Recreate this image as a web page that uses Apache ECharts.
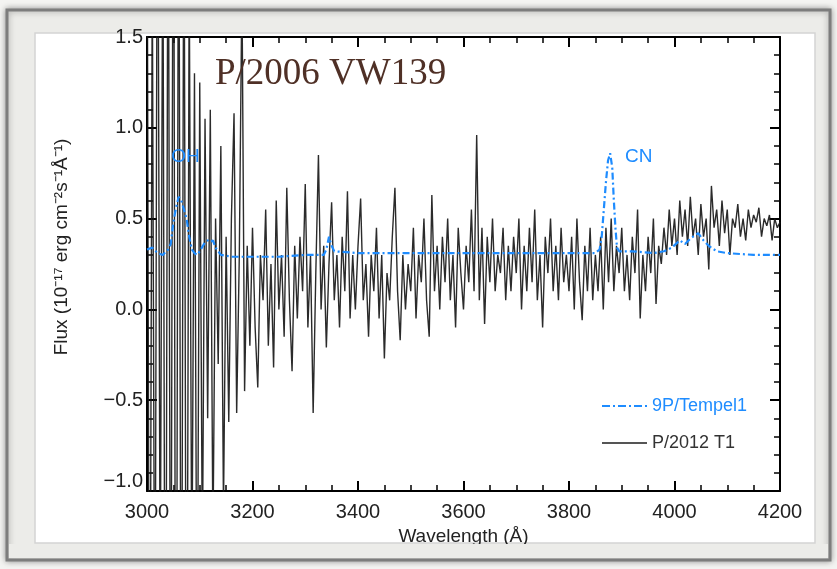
<!DOCTYPE html>
<html>
<head>
<meta charset="utf-8">
<script src="https://cdn.jsdelivr.net/npm/echarts@6/dist/echarts.min.js"></script>
<style>html,body{margin:0;padding:0;background:#f4f4f2;}#c{width:837px;height:569px;}</style>
</head>
<body>
<div id="c"></div>
<script>
// ---- data ----
const titleText = 'P/2006 VW139';
const xTicks = [3000, 3200, 3400, 3600, 3800, 4000, 4200];
const yTicks = [-1.0, -0.5, 0.0, 0.5, 1.0, 1.5];
const seriesNames = ['9P/Tempel1', 'P/2012 T1'];

// P/2012 T1 spectrum, sampled every 5 Å from 3000 Å
const blackStart = 3000, blackStep = 5;
const fluxBlack = [
  2.6, -3.0, 1.9, -2.4, 3.1, -1.7, 2.3, -3.2, 2.9, -2.7, 3.3, -3.5, 3.0, -2.9, 2.7, -3.1, 1.9, -1.6, 1.3, -2.2,
  1.25, -1.4, 1.05, -0.6, 1.1, -1.3, 0.5, -0.3, 0.9, -1.1, 0.4, -0.62, 0.5, 1.08, -0.57, 0.3, 1.8, -0.45, 0.35, -0.2,
  0.45, -0.1, -0.43, 0.3, 0.05, 0.55, -0.2, 0.25, -0.32, 0.6, 0.0, 0.3, -0.15, 0.67, 0.05, -0.34, 0.35, -0.05, 0.4, 0.1,
  0.69, -0.1, 0.3, -0.57, 0.2, 0.85, 0.0, 0.35, -0.21, 0.25, 0.59, 0.05, 0.3, -0.1, 0.4, 0.1, 0.65, -0.05, 0.3, 0.0,
  0.35, 0.61, 0.05, 0.25, -0.15, 0.3, 0.1, 0.45, -0.05, 0.3, -0.27, 0.2, 0.05, 0.4, 0.67, 0.1, -0.17, 0.3, 0.0, 0.25,
  0.1, 0.45, -0.05, 0.3, 0.15, 0.5, 0.05, -0.15, 0.63, 0.1, 0.35, 0.0, 0.4, 0.15, 0.5, 0.05, 0.3, -0.1, 0.45, 0.2,
  0.0, 0.35, 0.15, 0.55, 0.1, 0.96, 0.05, 0.45, -0.08, 0.4, 0.15, 0.5, 0.1, 0.3, 0.2, 0.45, 0.05, 0.35, 0.1, 0.4,
  0.2, 0.5, 0.0, 0.35, 0.1, 0.45, 0.15, 0.55, 0.05, 0.3, -0.1, 0.4, 0.2, 0.5, 0.1, 0.35, 0.05, 0.45, 0.15, 0.3,
  0.1, 0.4, 0.0, 0.5, 0.15, -0.06, 0.35, 0.1, 0.45, 0.05, 0.3, 0.1, 0.4, 0.0, 0.45, 0.15, 0.5, 0.1, 0.35, 0.2,
  0.45, 0.1, 0.3, 0.05, 0.4, 0.2, 0.55, -0.05, 0.3, 0.1, 0.4, 0.2, 0.5, 0.03, 0.35, 0.25, 0.45, 0.3, 0.55, 0.35,
  0.5, 0.3, 0.6, 0.4, 0.55, 0.35, 0.62, 0.4, 0.5, 0.3, 0.58, 0.4, 0.5, 0.22, 0.68, 0.45, 0.55, 0.35, 0.6, 0.42,
  0.55, 0.3, 0.5, 0.45, 0.58, 0.4, 0.5, 0.38, 0.55, 0.45, 0.52, 0.48, 0.56, 0.4, 0.5, 0.46, 0.52, 0.38, 0.5, 0.45,
  0.48
];

// 9P/Tempel1 comparison spectrum
const wavelengthBlue = [3000, 3010, 3020, 3030, 3040, 3045, 3050, 3055, 3060, 3065, 3070, 3075, 3080, 3085, 3090, 3095,
  3100, 3110, 3115, 3120, 3125, 3130, 3140, 3160, 3200, 3250, 3300, 3335, 3340, 3345, 3350, 3355, 3400, 3500, 3600,
  3700, 3800, 3850, 3858, 3862, 3866, 3870, 3874, 3878, 3882, 3885, 3888, 3891, 3895, 3920, 3960, 3980, 3995, 4010,
  4020, 4030, 4045, 4055, 4065, 4080, 4100, 4150, 4200];
const fluxBlue = [0.33, 0.34, 0.31, 0.30, 0.33, 0.36, 0.48, 0.56, 0.62, 0.60, 0.55, 0.50, 0.40, 0.33, 0.31, 0.30,
  0.32, 0.37, 0.38, 0.37, 0.38, 0.34, 0.30, 0.29, 0.29, 0.29, 0.30, 0.30, 0.33, 0.40, 0.35, 0.32, 0.31, 0.31, 0.31,
  0.31, 0.31, 0.31, 0.33, 0.40, 0.55, 0.70, 0.82, 0.86, 0.78, 0.60, 0.45, 0.34, 0.32, 0.32, 0.31, 0.32, 0.34, 0.38,
  0.36, 0.39, 0.42, 0.38, 0.35, 0.32, 0.31, 0.30, 0.30];

const annotations = [
  {text: 'OH', x: 3073, y: 0.84},
  {text: 'CN', x: 3932, y: 0.84}
];

// ---- build ----
const blackData = fluxBlack.map((v, i) => [blackStart + blackStep * i, v]);
const blueData = wavelengthBlue.map((w, i) => [w, fluxBlue[i]]);

const chart = echarts.init(document.getElementById('c'));
const FONT = '"Liberation Sans", Arial, sans-serif';
const BLUE = '#1e8cff';

const axisLineStyle = {show: true, onZero: false, lineStyle: {color: '#000', width: 2}};
const tickStyle = {show: true, inside: true, length: 10, lineStyle: {color: '#000', width: 2}};
const xMinor = {show: true, splitNumber: 4, length: 6, lineStyle: {color: '#000', width: 1.5}};
const yMinor = {show: true, splitNumber: 5, length: 6, lineStyle: {color: '#000', width: 1.5}};

chart.setOption({
  animation: false,
  backgroundColor: '#f4f4f2',
  grid: {left: 147, right: 57, top: 37, bottom: 78, containLabel: false},
  xAxis: [
    {
      type: 'value', min: xTicks[0], max: xTicks[xTicks.length - 1], interval: 200, position: 'bottom',
      axisLine: axisLineStyle, axisTick: tickStyle, minorTick: xMinor, splitLine: {show: false},
      axisLabel: {color: '#222', fontSize: 20, fontFamily: FONT, margin: 11, formatter: v => String(v)},
      name: 'Wavelength (Å)', nameLocation: 'middle', nameGap: 34,
      nameTextStyle: {color: '#222', fontSize: 19, fontFamily: FONT}
    },
    {
      type: 'value', min: xTicks[0], max: xTicks[xTicks.length - 1], interval: 200, position: 'top',
      axisLine: axisLineStyle, axisTick: tickStyle, minorTick: xMinor, splitLine: {show: false},
      axisLabel: {show: false}
    }
  ],
  yAxis: [
    {
      type: 'value', min: yTicks[0], max: yTicks[yTicks.length - 1], interval: 0.5, position: 'left',
      axisLine: axisLineStyle, axisTick: tickStyle, minorTick: yMinor, splitLine: {show: false},
      axisLabel: {color: '#222', fontSize: 20, fontFamily: FONT, margin: 4,
        verticalAlignMinLabel: 'bottom',
        formatter: v => v.toFixed(1).replace('-', '−')}
    },
    {
      type: 'value', min: yTicks[0], max: yTicks[yTicks.length - 1], interval: 0.5, position: 'right',
      axisLine: axisLineStyle, axisTick: tickStyle, minorTick: yMinor, splitLine: {show: false},
      axisLabel: {show: false}
    }
  ],
  legend: {
    orient: 'vertical', left: 597, top: 392, itemWidth: 45, itemHeight: 2, itemGap: 19,
    textStyle: {fontSize: 18, fontFamily: FONT},
    data: [
      {name: seriesNames[0], textStyle: {color: BLUE},
        icon: 'path://M0,0h8v2h-8z M11,0h2v2h-2z M16,0h8v2h-8z M27,0h2v2h-2z M32,0h8v2h-8z M43,0h2v2h-2z'},
      {name: seriesNames[1], textStyle: {color: '#333'},
        icon: 'path://M0,0h45v2h-45z'}
    ]
  },
  series: [
    {
      name: seriesNames[1], type: 'line', data: blackData, showSymbol: false, symbol: 'none',
      xAxisIndex: 0, yAxisIndex: 0, z: 2, clip: true,
      lineStyle: {color: '#141414', width: 1.4, opacity: 0.9},
      itemStyle: {color: '#555'}
    },
    {
      name: seriesNames[0], type: 'line', data: blueData, showSymbol: false, symbol: 'none',
      xAxisIndex: 0, yAxisIndex: 0, z: 3, clip: true,
      lineStyle: {color: BLUE, width: 2.2, type: [7, 3, 2, 3]},
      itemStyle: {color: BLUE},
      markPoint: {
        symbol: 'circle', symbolSize: 1, itemStyle: {color: 'rgba(0,0,0,0)'},
        label: {show: true, color: BLUE, fontSize: 19, fontFamily: FONT, formatter: p => p.name, position: 'inside'},
        data: annotations.map(a => ({name: a.text, coord: [a.x, a.y]}))
      }
    }
  ],
  graphic: [
    {type: 'rect', z: -100, silent: true, shape: {x: 7, y: 10, width: 823, height: 550},
      style: {fill: '#ecece9', stroke: '#7d7d7d', lineWidth: 3, shadowBlur: 6, shadowColor: 'rgba(0,0,0,0.35)'}},
    {type: 'rect', z: -99, silent: true, shape: {x: 35, y: 33, width: 780, height: 510},
      style: {fill: '#ffffff', stroke: '#d4d4d4', lineWidth: 1.5}},
    {type: 'rect', z: 100, silent: true, shape: {x: 9, y: 544, width: 819, height: 14},
      style: {fill: '#ecece9'}},
    {type: 'text', z: 50, left: 215, top: 56, silent: true,
      style: {text: titleText, fill: '#4f3026', font: '37px "Liberation Serif", "DejaVu Serif", serif'}},
    {type: 'text', z: 50, silent: true, x: 62, y: 247, rotation: Math.PI / 2,
      style: {text: 'Flux (10⁻¹⁷ erg cm⁻²s⁻¹Å⁻¹)', fill: '#222', align: 'center', verticalAlign: 'middle',
        font: '19px "Liberation Sans", Arial, sans-serif'}}
  ]
});
</script>
</body>
</html>
